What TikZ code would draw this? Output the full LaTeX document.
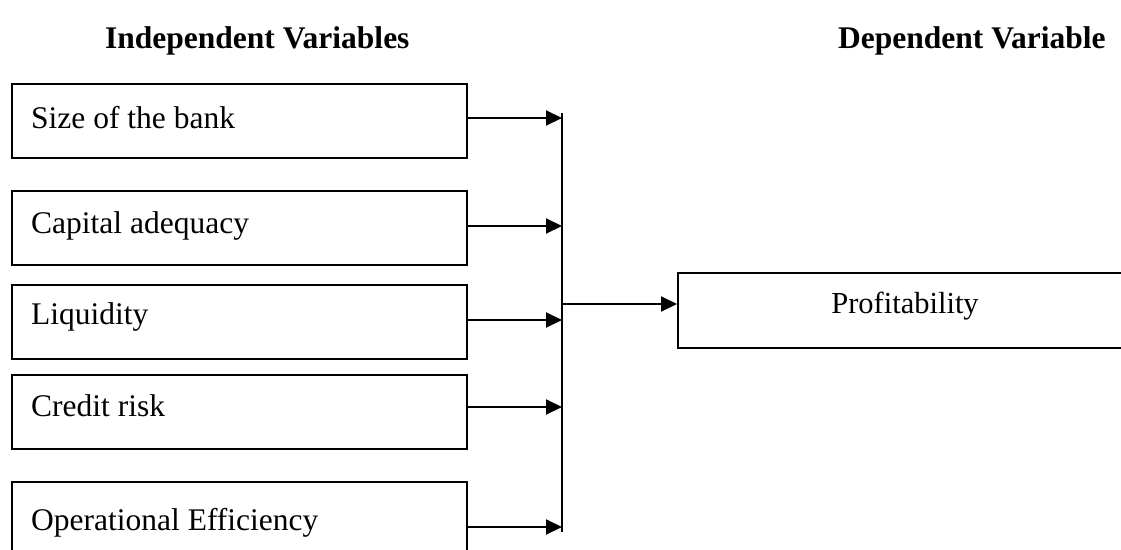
\documentclass[tikz,border=0pt]{standalone}
\usepackage{fontspec}
\setmainfont{Liberation Serif}
\usetikzlibrary{arrows.meta}
\begin{document}
\begin{tikzpicture}[x=1pt,y=-1pt,
  varbox/.style={draw, line width=2pt, rectangle, inner sep=0pt, anchor=north west,
                 minimum width=455pt, minimum height=74pt},
  boxtext/.style={anchor=base west, inner sep=0pt, font=\fontsize{31.5}{38}\selectfont},
  heading/.style={anchor=base west, inner sep=0pt, font=\bfseries\fontsize{31.5}{38}\selectfont},
  arr/.style={line width=2pt, -{Triangle[length=16pt,width=15pt]}},
  bus/.style={line width=2pt}]
\useasboundingbox (0,0) rectangle (1121,549);
\clip (0,0) rectangle (1121,549);

% column headings
\node[heading] (hind) at (105,48) {Independent Variables};
\node[heading] (hdep) at (838,48) {Dependent Variable};

% independent variables
\node[varbox] (b1) at (11,83)  {};
\node[varbox] (b2) at (11,190) {};
\node[varbox] (b3) at (11,284) {};
\node[varbox] (b4) at (11,374) {};
\node[varbox] (b5) at (11,481) {};
\node[boxtext] (t1) at (31,128) {Size of the bank};
\node[boxtext] (t2) at (31,233) {Capital adequacy};
\node[boxtext] (t3) at (31,324) {Liquidity};
\node[boxtext] (t4) at (31,416) {Credit risk};
\node[boxtext] (t5) at (31,530) {Operational Efficiency};

% dependent variable
\node[varbox, minimum width=456pt, minimum height=75pt] (dv) at (677,272) {};
\node[anchor=base, inner sep=0pt, font=\fontsize{30.5}{36}\selectfont] (dvt) at (905,313) {Profitability};

% collecting bus
\coordinate (bustop) at (562,113);
\coordinate (busbot) at (562,532);
\draw[bus] (bustop) -- (busbot);

% arrows into the bus
\coordinate (a1) at (562,118);
\coordinate (a2) at (562,226);
\coordinate (a3) at (562,320);
\coordinate (a4) at (562,407);
\coordinate (a5) at (562,527);
\draw[arr] (b1.east |- a1) -- (a1);
\draw[arr] (b2.east |- a2) -- (a2);
\draw[arr] (b3.east |- a3) -- (a3);
\draw[arr] (b4.east |- a4) -- (a4);
\draw[arr] (b5.east |- a5) -- (a5);

% arrow to the outcome
\coordinate (j) at (562,304);
\draw[arr] (j) -- (j -| dv.west);
\end{tikzpicture}
\end{document}
